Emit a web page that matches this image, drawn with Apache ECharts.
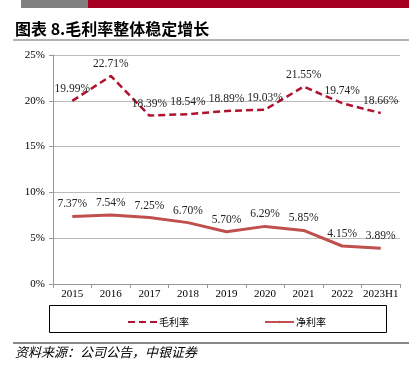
<!DOCTYPE html>
<html>
<head>
<meta charset="utf-8">
<script src="https://cdn.jsdelivr.net/npm/echarts@6/dist/echarts.min.js"></script>
<style>
  html, body { margin: 0; padding: 0; background: #fff; }
  #chart { width: 418px; height: 377px; }
</style>
</head>
<body>
<div id="chart"></div>
<script>
// 数据
var years = ['2015', '2016', '2017', '2018', '2019', '2020', '2021', '2022', '2023H1'];
var grossMargin = [19.99, 22.71, 18.39, 18.54, 18.89, 19.03, 21.55, 19.74, 18.66];
var netMargin = [7.37, 7.54, 7.25, 6.70, 5.70, 6.29, 5.85, 4.15, 3.89];
var yTicks = [0, 5, 10, 15, 20, 25];

var serif = '"Liberation Serif", "Times New Roman", serif';
var cjk = '"Noto Sans CJK SC", sans-serif';

var myChart = echarts.init(document.getElementById('chart'));
var option = {
  animation: false,
  graphic: [
    // 顶部色条
    { type: 'rect', shape: { x: 21, y: 0, width: 67, height: 8 }, style: { fill: '#808080' } },
    { type: 'rect', shape: { x: 88, y: 0, width: 321, height: 8 }, style: { fill: '#A50021' } },
    {
      type: 'text', left: 15, top: 21,
      style: { text: '图表 8.毛利率整体稳定增长', font: 'bold 16px ' + cjk, fill: '#000' }
    },
    { type: 'line', shape: { x1: 13, y1: 40, x2: 409, y2: 40 }, style: { stroke: '#999', lineWidth: 1.5 } },
    // 图例框
    { type: 'rect', shape: { x: 49.5, y: 305.5, width: 337, height: 27 }, style: { fill: 'none', stroke: '#000', lineWidth: 1 } },
    { type: 'line', shape: { x1: 13, y1: 343, x2: 409, y2: 343 }, style: { stroke: '#888', lineWidth: 2 } },
    {
      type: 'text', left: 15, top: 346,
      style: { text: '资料来源：公司公告，中银证券', font: 'italic 13px ' + cjk, fill: '#000' }
    }
  ],
  legend: {
    left: 122,
    top: 312,
    itemWidth: 29,
    itemHeight: 3,
    itemGap: 75,
    textStyle: { fontFamily: cjk, fontSize: 10, color: '#000', padding: [0, 0, 0, -3] },
    data: ['毛利率', '净利率']
  },
  grid: {
    left: 53,
    right: 18,
    top: 55,
    bottom: 93
  },
  xAxis: {
    type: 'category',
    data: years,
    boundaryGap: true,
    axisLine: { lineStyle: { color: '#999' } },
    axisTick: { show: true, length: 4, lineStyle: { color: '#999' } },
    axisLabel: { interval: 0, fontFamily: serif, fontSize: 11, color: '#000', margin: 5 }
  },
  yAxis: {
    type: 'value',
    min: yTicks[0],
    max: yTicks[yTicks.length - 1],
    interval: 5,
    axisLine: { show: true, lineStyle: { color: '#999' } },
    axisTick: { show: true, length: 4, lineStyle: { color: '#999' } },
    axisLabel: { formatter: '{value}%', fontFamily: serif, fontSize: 11, color: '#000', margin: 8 },
    splitLine: { lineStyle: { color: '#bbb' } }
  },
  series: [
    {
      name: '毛利率',
      type: 'line',
      data: grossMargin,
      symbol: 'circle',
      symbolSize: 0.1,
      showSymbol: true,
      itemStyle: { color: '#B0122F' },
      lineStyle: { color: '#B0122F', width: 2.5, type: [7, 4] },
      label: {
        show: true, position: 'top', distance: 6,
        formatter: function (p) { return p.value.toFixed(2) + '%'; },
        fontFamily: serif, fontSize: 11.5, color: '#222'
      }
    },
    {
      name: '净利率',
      type: 'line',
      data: netMargin,
      symbol: 'circle',
      symbolSize: 0.1,
      showSymbol: true,
      itemStyle: { color: '#C0504D' },
      lineStyle: { color: '#C0504D', width: 3 },
      label: {
        show: true, position: 'top', distance: 6,
        formatter: function (p) { return p.value.toFixed(2) + '%'; },
        fontFamily: serif, fontSize: 11.5, color: '#222'
      }
    }
  ]
};
myChart.setOption(option, true);
</script>
</body>
</html>
